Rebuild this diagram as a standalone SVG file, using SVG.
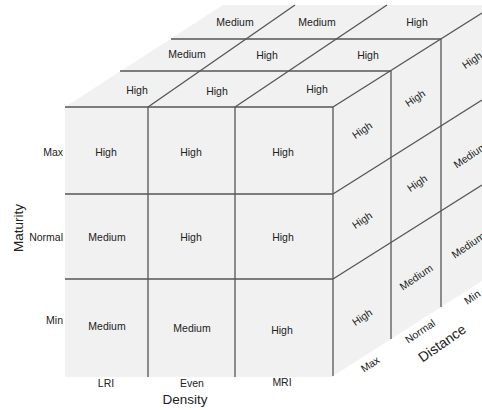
<svg xmlns="http://www.w3.org/2000/svg" width="482" height="410" viewBox="0 0 482 410">
<style>
.face{fill:#f1f1f1;stroke:none}
.ln{stroke:#555;stroke-width:1.3;fill:none}
.t{font-family:"Liberation Sans",Arial,sans-serif;font-size:10.5px;fill:#222;text-anchor:middle;dominant-baseline:central}
.ax{font-family:"Liberation Sans",Arial,sans-serif;font-size:13.5px;fill:#222;text-anchor:middle;dominant-baseline:central}
.r{text-anchor:end}
</style>
<rect width="482" height="410" fill="#fff"/>
<g id="faces">
<polygon class="face" points="65,107 223,5 482,5 482,13 333,107"/>
<polygon class="face" points="333,107 482,13 482,281 333,376"/>
<rect class="face" x="65" y="107" width="268" height="270"/>
</g>
<g id="connectors">
<line class="ln" x1="65" y1="107" x2="333" y2="107"/>
<line class="ln" x1="65" y1="194" x2="333" y2="194"/>
<line class="ln" x1="65" y1="279" x2="333" y2="279"/>
<line class="ln" x1="148" y1="107" x2="148" y2="377"/>
<line class="ln" x1="235" y1="107" x2="235" y2="377"/>
<line class="ln" x1="333" y1="107" x2="333" y2="376"/>
<line class="ln" x1="120" y1="71" x2="391" y2="71"/>
<line class="ln" x1="171" y1="39" x2="441" y2="39"/>
<line class="ln" x1="148" y1="107" x2="295" y2="5"/>
<line class="ln" x1="235" y1="107" x2="387" y2="5"/>
<line class="ln" x1="333" y1="107" x2="482" y2="13"/>
<line class="ln" x1="333" y1="194" x2="482" y2="100"/>
<line class="ln" x1="333" y1="279" x2="482" y2="185"/>
<line class="ln" x1="391" y1="71" x2="391" y2="339"/>
<line class="ln" x1="441" y1="39" x2="441" y2="307"/>
</g>
<g id="front">
<text class="t" x="106" y="152">High</text>
<text class="t" x="191" y="152">High</text>
<text class="t" x="283" y="152">High</text>
<text class="t" x="107" y="237">Medium</text>
<text class="t" x="191" y="237">High</text>
<text class="t" x="283" y="237">High</text>
<text class="t" x="107" y="326">Medium</text>
<text class="t" x="192" y="328">Medium</text>
<text class="t" x="282" y="330">High</text>
</g>
<g id="top">
<text class="t" x="137" y="90">High</text>
<text class="t" x="217" y="91">High</text>
<text class="t" x="317" y="89">High</text>
<text class="t" x="187" y="54">Medium</text>
<text class="t" x="267" y="55">High</text>
<text class="t" x="368" y="55">High</text>
<text class="t" x="235" y="22">Medium</text>
<text class="t" x="317" y="22">Medium</text>
<text class="t" x="417" y="22">High</text>
</g>
<g id="side">
<text class="t" transform="translate(362,130) rotate(-34)">High</text>
<text class="t" transform="translate(362,220) rotate(-34)">High</text>
<text class="t" transform="translate(362,317) rotate(-34)">High</text>
<text class="t" transform="translate(415,98) rotate(-34)">High</text>
<text class="t" transform="translate(417,183) rotate(-34)">High</text>
<text class="t" transform="translate(416,277) rotate(-34)">Medium</text>
<text class="t" transform="translate(472,60) rotate(-34)">High</text>
<text class="t" transform="translate(470,155) rotate(-34)">Medium</text>
<text class="t" transform="translate(468,245) rotate(-34)">Medium</text>
</g>
<g id="axes">
<text class="t r" x="63" y="152">Max</text>
<text class="t r" x="63" y="237">Normal</text>
<text class="t r" x="63" y="320">Min</text>
<text class="ax" transform="translate(18,228) rotate(-90)">Maturity</text>
<text class="t" x="106" y="383">LRI</text>
<text class="t" x="192" y="383">Even</text>
<text class="t" x="282" y="382">MRI</text>
<text class="ax" x="185" y="399">Density</text>
<text class="t" transform="translate(370,364) rotate(-34)">Max</text>
<text class="t" transform="translate(420,331) rotate(-34)">Normal</text>
<text class="t" transform="translate(472,297) rotate(-34)">Min</text>
<text class="ax" style="font-size:14px" transform="translate(442,343) rotate(-35)">Distance</text>
</g>
</svg>
